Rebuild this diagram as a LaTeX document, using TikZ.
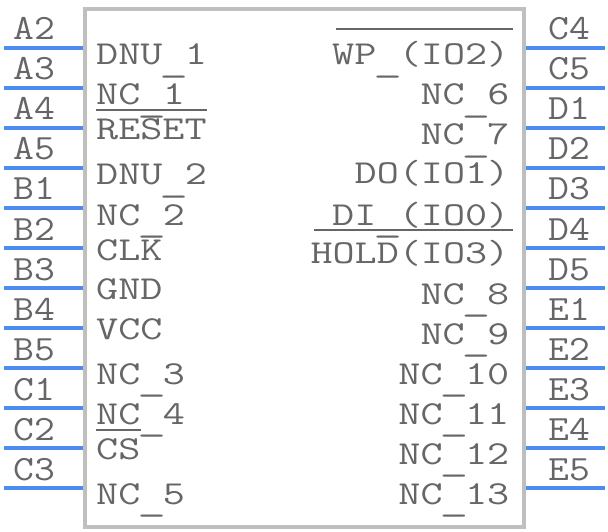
\documentclass[tikz,border=0pt]{standalone}
\usepackage{fontspec}
\usepackage{tikz,xcolor}
\usetikzlibrary{positioning,calc}
\newfontfamily\pinfont{Latin Modern Mono}[FakeStretch=1.14]
\newfontfamily\sigfont{Latin Modern Mono}[FakeStretch=1.28]
\definecolor{pinblue}{HTML}{4A8CF0}
\definecolor{bodygray}{HTML}{BFBFBF}
\definecolor{textgray}{HTML}{666666}
\newcommand{\usc}{\makebox[22.5pt]{\raisebox{-6.5pt}{\scalebox{1.3}[1]{\_}}}}

\begin{document}
\begin{tikzpicture}[x=1pt,y=-1pt,
	pinline/.style={draw=pinblue,line width=3.6pt},
	pinlabel/.style={inner sep=0pt,anchor=base,text=textgray,font=\pinfont\fontsize{35.5}{36}\selectfont},
	sigleft/.style={inner sep=0pt,anchor=base west,text=textgray,font=\sigfont\fontsize{33.5}{36}\selectfont},
	sigright/.style={inner sep=0pt,anchor=base east,text=textgray,font=\sigfont\fontsize{33.5}{36}\selectfont},
	barline/.style={draw=textgray,line width=2pt},
	]
	\useasboundingbox (0,0) rectangle (608,532);
	% create the body
	\node (chip) at (304.3,268) [draw=bodygray,line width=3.4pt,minimum width=439pt,minimum height=518pt,inner sep=0pt] {};

	% create the pins
	\foreach \pinname [count=\i] in {A2,A3,A4,A5,B1,B2,B3,B4,B5,C1,C2,C3}{
		\coordinate (pin\pinname) at (3.5,8+40*\i);
		\draw[pinline] (pin\pinname) -- (pin\pinname -| chip.west);
		\node (label\pinname)[pinlabel] at (34,8+40*\i-8) {\pinname};
	}
	\foreach \pinname [count=\i] in {C4,C5,D1,D2,D3,D4,D5,E1,E2,E3,E4,E5}{
		\coordinate (pin\pinname) at (604.5,8+40*\i);
		\draw[pinline] (pin\pinname) -- (pin\pinname -| chip.east);
		\node (label\pinname)[pinlabel] at (569,8+40*\i-8) {\pinname};
	}

	% create the signal names
	\foreach \signame/\sigy/\sigtext in {dnua/65/DNU\usc 1,nca/105/NC\usc 1,reset/140/RESET,dnub/185/DNU\usc 2,ncb/225/NC\usc 2,clk/260/CLK,gnd/299/GND,vcc/339/VCC,ncc/384/NC\usc 3,ncd/424/NC\usc 4,cs/459/CS,nce/504/NC\usc 5}{
		\node (\signame)[sigleft] at (96,\sigy) {\sigtext};
	}
	\foreach \signame/\sigy/\sigtext in {wp/65/WP\usc(IO2),ncf/105/NC\usc 6,ncg/145/NC\usc 7,do/183/DO(IO1),di/225/DI\usc(IO0),hold/263/HOLD(IO3),nch/304/NC\usc 8,nci/344/NC\usc 9,ncj/384/NC\usc 10,nck/424/NC\usc 11,ncl/464/NC\usc 12,ncm/504/NC\usc 13}{
		\node (\signame)[sigright] at (509.5,\sigy) {\sigtext};
	}

	% bars over the active low names
	\coordinate (wpbar) at (336,29.5);
	\coordinate (resetbar) at (96,109.7);
	\coordinate (holdbar) at (314,229.7);
	\coordinate (csbar) at (96,429.7);
	\draw[barline] (wpbar) -- ++(177,0);
	\draw[barline] (resetbar) -- ++(111,0);
	\draw[barline] (holdbar) -- ++(199,0);
	\draw[barline] (csbar) -- ++(45,0);
\end{tikzpicture}
\end{document}
